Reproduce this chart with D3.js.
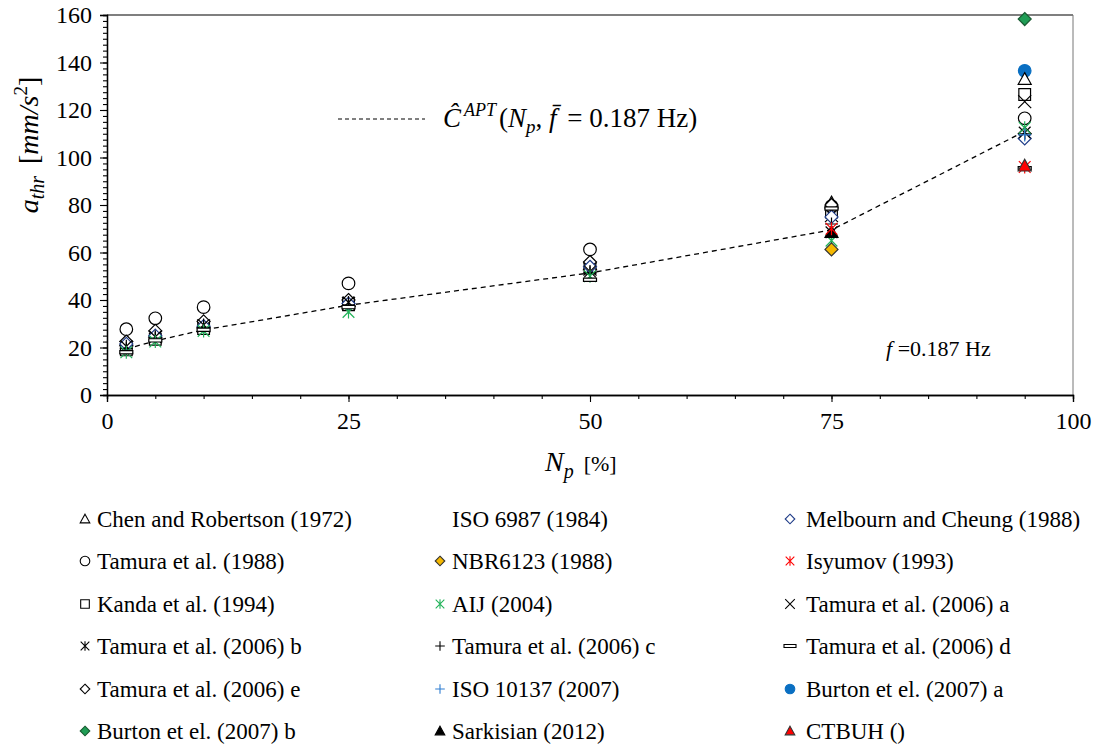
<!DOCTYPE html>
<html>
<head>
<meta charset="utf-8">
<script src="https://cdn.jsdelivr.net/npm/d3@7"></script>
<style>
  body { margin: 0; background: #fff; }
  text { font-family: "Liberation Serif", "Times New Roman", serif; fill: #000; }
</style>
</head>
<body>
<svg id="chart" width="1097" height="746"></svg>
<script>
// percent of population perceiving (x positions)
const npLevels = [2, 5, 10, 25, 50, 75, 95]
// fitted curve C^APT(Np, f=0.187 Hz)
const fitValues = [19.4, 22.8, 27.4, 37.8, 51.4, 69.5, 111]

// threshold accelerations [mm/s2], null = no value at that Np
const chenRobertson = [23, 26.5, 30.5, 39.5, 55, 81, 133]
const iso6987 = [null, null, null, null, null, null, null]
const melbournCheung = [21.5, 25, 29, 38.5, 54, 75, 108]
const tamura1988 = [27.7, 32.3, 37, 47, 61.3, 79.5, 116.5]
const nbr6123 = [null, null, null, null, null, 61.3, null]
const isyumov = [null, null, null, null, null, 70, 96]
const kanda1994 = [19, 23.5, 28, 38, 53.5, 77, 126.5]
const aij2004 = [18, 22.5, 27, 35, 50, 65, 112.5]
const tamura2006a = [20, 24.5, 29, 38.5, 53, 75.5, 123.5]
const tamura2006b = [20.5, 24.5, 29.5, 39, 52, 68.5, 110.5]
const tamura2006c = [19.5, 24, 28.5, 38, 51.5, 72, 110]
const tamura2006d = [18, 23, 27.5, 37, 48.5, 78.5, 95.5]
const tamura2006e = [22.5, 27, 31, 40, 56, 80, 110]
const iso10137 = [null, null, null, null, null, null, 109.5]
const burton2007a = [null, null, null, null, null, null, 136.5]
const burton2007b = [null, null, null, null, null, null, 158.3]
const sarkisian2012 = [null, null, null, null, null, 68.5, null]
const ctbuh = [null, null, null, null, null, null, 96.5]

const xTicks = [0, 25, 50, 75, 100]
const yTicks = [0, 20, 40, 60, 80, 100, 120, 140, 160]

// legend order (3 columns, row by row)
const series = [
  {name: "Chen and Robertson (1972)", data: chenRobertson, shape: "triangle", fill: "#fff", stroke: "#000"},
  {name: "ISO 6987 (1984)", data: iso6987, shape: "none", fill: "none", stroke: "none"},
  {name: "Melbourn and Cheung (1988)", data: melbournCheung, shape: "diamond", fill: "#fff", stroke: "#1f3c88"},
  {name: "Tamura et al. (1988)", data: tamura1988, shape: "circle", fill: "#fff", stroke: "#000"},
  {name: "NBR6123 (1988)", data: nbr6123, shape: "diamond", fill: "#f5b800", stroke: "#333"},
  {name: "Isyumov (1993)", data: isyumov, shape: "star", fill: "none", stroke: "#ff0000"},
  {name: "Kanda et al. (1994)", data: kanda1994, shape: "square", fill: "#fff", stroke: "#000"},
  {name: "AIJ (2004)", data: aij2004, shape: "star", fill: "none", stroke: "#22b35a"},
  {name: "Tamura et al. (2006) a", data: tamura2006a, shape: "x", fill: "none", stroke: "#000"},
  {name: "Tamura et al. (2006) b", data: tamura2006b, shape: "star", fill: "none", stroke: "#000"},
  {name: "Tamura et al. (2006) c", data: tamura2006c, shape: "plus", fill: "none", stroke: "#000"},
  {name: "Tamura et al. (2006) d", data: tamura2006d, shape: "dash", fill: "#fff", stroke: "#000"},
  {name: "Tamura et al. (2006) e", data: tamura2006e, shape: "diamond", fill: "#fff", stroke: "#000"},
  {name: "ISO 10137 (2007)", data: iso10137, shape: "plus", fill: "none", stroke: "#2e7dd1"},
  {name: "Burton et el. (2007) a", data: burton2007a, shape: "circle", fill: "#0a6fc2", stroke: "#0a6fc2"},
  {name: "Burton et el. (2007) b", data: burton2007b, shape: "diamond", fill: "#1f9d55", stroke: "#1a5c33"},
  {name: "Sarkisian (2012)", data: sarkisian2012, shape: "triangle", fill: "#000", stroke: "#000"},
  {name: "CTBUH ()", data: ctbuh, shape: "triangle", fill: "#ff0000", stroke: "#333"}
]

// draw order of the scatter (later = on top)
const drawOrder = [15, 14, 0, 6, 8, 3, 12, 2, 10, 9, 7, 13, 11, 4, 16, 5, 17, 1]

function markerPath(shape, s) {
  let p = d3.path()
  if (shape == "triangle") {
    p.moveTo(0, -s); p.lineTo(s, s * 0.8); p.lineTo(-s, s * 0.8); p.closePath()
  } else if (shape == "circle") {
    p.arc(0, 0, s, 0, 2 * Math.PI)
  } else if (shape == "square") {
    p.rect(-s * 0.9, -s * 0.9, s * 1.8, s * 1.8)
  } else if (shape == "diamond") {
    p.moveTo(0, -s); p.lineTo(s, 0); p.lineTo(0, s); p.lineTo(-s, 0); p.closePath()
  } else if (shape == "x") {
    p.moveTo(-s, -s); p.lineTo(s, s); p.moveTo(-s, s); p.lineTo(s, -s)
  } else if (shape == "star") {
    p.moveTo(-s * 0.9, -s * 0.9); p.lineTo(s * 0.9, s * 0.9)
    p.moveTo(-s * 0.9, s * 0.9); p.lineTo(s * 0.9, -s * 0.9)
    p.moveTo(0, -s); p.lineTo(0, s)
  } else if (shape == "plus") {
    p.moveTo(-s, 0); p.lineTo(s, 0); p.moveTo(0, -s); p.lineTo(0, s)
  } else if (shape == "dash") {
    p.rect(-s, -s * 0.25, s * 2, s * 0.5)
  }
  return p.toString()
}

const svg = d3.select("#chart")
const x = d3.scaleLinear().domain([0, 100]).range([107, 1073])
const y = d3.scaleLinear().domain([0, 160]).range([395, 15])

// frame top + right
svg.append("line").attr("x1", x(0)).attr("x2", x(100)).attr("y1", y(160)).attr("y2", y(160))
  .attr("stroke", "#000").attr("stroke-width", 1.2)
svg.append("line").attr("x1", x(100)).attr("x2", x(100)).attr("y1", y(160)).attr("y2", y(0))
  .attr("stroke", "#777").attr("stroke-width", 1)

// minor ticks
const gx = svg.append("g").attr("transform", "translate(0," + y(0) + ")")
gx.call(d3.axisBottom(x).tickValues(d3.range(0, 101, 5)).tickSize(4).tickFormat(""))
gx.append("g").call(d3.axisBottom(x).tickValues(xTicks).tickSize(7).tickPadding(10).tickFormat(d3.format("d")))
const gy = svg.append("g").attr("transform", "translate(" + x(0) + ",0)")
gy.call(d3.axisLeft(y).tickValues(d3.range(0, 160.1, 2.5)).tickSize(4).tickFormat(""))
gy.append("g").call(d3.axisLeft(y).tickValues(yTicks).tickSize(7).tickPadding(8).tickFormat(d3.format("d")))
svg.selectAll(".domain").attr("stroke", "#000").attr("stroke-width", 1.3)
svg.selectAll(".tick line").attr("stroke", "#000").attr("stroke-width", 1.1)
svg.selectAll(".tick text").attr("font-family", "Liberation Serif").attr("font-size", 24).attr("fill", "#000")

// fitted line
svg.append("path")
  .datum(npLevels.map((n, i) => [n, fitValues[i]]))
  .attr("fill", "none")
  .attr("stroke", "#000")
  .attr("stroke-width", 1.3)
  .attr("stroke-dasharray", "5,4")
  .attr("d", d3.line().x(d => x(d[0])).y(d => y(d[1])))

// scatter
for (let k of drawOrder) {
  let s = series[k]
  if (s.shape == "none") continue
  let pts = npLevels.map((n, i) => [n, s.data[i]]).filter(d => d[1] != null)
  svg.append("g").selectAll("path").data(pts).join("path")
    .attr("transform", d => "translate(" + x(d[0]) + "," + y(d[1]) + ")")
    .attr("d", markerPath(s.shape, s.shape == "circle" ? 6.3 : 6.5))
    .attr("fill", s.fill)
    .attr("stroke", s.stroke)
    .attr("stroke-width", 1.2)
}

// legend
const colMarker = [85, 440, 790]
const colText = [97, 452, 806]
const rowY = [519, 561, 604, 646, 689, 731]
series.forEach((s, i) => {
  let c = i % 3, r = Math.floor(i / 3)
  if (s.shape != "none") {
    svg.append("path")
      .attr("transform", "translate(" + colMarker[c] + "," + rowY[r] + ")")
      .attr("d", markerPath(s.shape, s.shape == "dash" ? 6 : 4.8))
      .attr("fill", s.fill)
      .attr("stroke", s.stroke)
      .attr("stroke-width", 1.1)
  }
  svg.append("text").attr("x", colText[c]).attr("y", rowY[r] + 8)
    .attr("font-size", 23).text(s.name)
})

// axis titles
const yl = svg.append("text").attr("transform", "translate(38,145) rotate(-90)")
  .attr("text-anchor", "middle").attr("font-size", 28)
yl.append("tspan").attr("font-style", "italic").text("a")
yl.append("tspan").attr("font-style", "italic").attr("font-size", 20).attr("dy", 6).text("thr")
yl.append("tspan").attr("dy", -6).attr("dx", 12).text("[")
yl.append("tspan").attr("font-style", "italic").text("mm/s")
yl.append("tspan").attr("font-size", 19).attr("dy", -11).text("2")
yl.append("tspan").attr("dy", 11).text("]")

const xl = svg.append("text").attr("x", 545).attr("y", 471).attr("font-size", 28)
xl.append("tspan").attr("font-style", "italic").text("N")
xl.append("tspan").attr("font-style", "italic").attr("font-size", 20).attr("dy", 7).text("p")
xl.append("tspan").attr("font-size", 22).attr("dy", -7).attr("dx", 10).text("[%]")

// fit legend
svg.append("line").attr("x1", 338).attr("x2", 425).attr("y1", 119).attr("y2", 119)
  .attr("stroke", "#000").attr("stroke-width", 1).attr("stroke-dasharray", "4,3")
const ft = svg.append("text").attr("x", 443).attr("y", 127).attr("font-size", 27)
ft.append("tspan").attr("font-style", "italic").text("Ĉ")
ft.append("tspan").attr("font-style", "italic").attr("font-size", 18).attr("dy", -11).attr("dx", 3).text("APT")
ft.append("tspan").attr("dy", 11).attr("dx", 3).text("(")
ft.append("tspan").attr("font-style", "italic").text("N")
ft.append("tspan").attr("font-style", "italic").attr("font-size", 19).attr("dy", 6).text("p")
ft.append("tspan").attr("dy", -6).text(", ")
ft.append("tspan").attr("font-style", "italic").text("f\u0304")
ft.append("tspan").attr("dx", 4).text(" =  0.187 Hz)")

const fl = svg.append("text").attr("x", 886).attr("y", 356).attr("font-size", 22)
fl.append("tspan").attr("font-style", "italic").text("f")
fl.append("tspan").text(" =0.187 Hz")
</script>
</body>
</html>
